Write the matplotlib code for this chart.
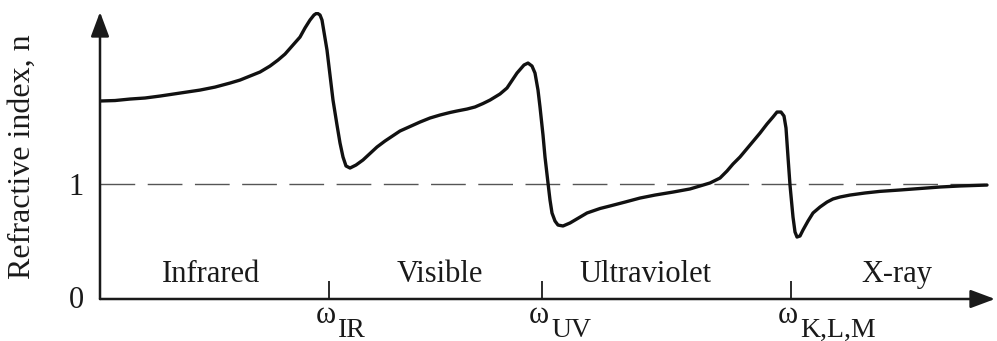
import matplotlib
matplotlib.use("Agg")
import matplotlib.pyplot as plt

plt.rcParams['font.family'] = ['Liberation Serif', 'DejaVu Serif']

# frequency (arbitrary units) and refractive index
freq = [0, .15, .30, .45, .60, .80, 1.00, 1.15, 1.30, 1.40, 1.50, 1.60, 1.70, 1.78,
        1.85, 1.93, 2.00, 2.05, 2.10, 2.14, 2.17, 2.20, 2.22,
        2.27, 2.33, 2.37, 2.40, 2.43, 2.46, 2.50, 2.56, 2.63, 2.77, 2.85, 3.00, 3.10,
        3.20, 3.30, 3.40, 3.50, 3.57, 3.67, 3.75, 3.83, 3.90, 4.00, 4.07, 4.12, 4.17,
        4.24, 4.28, 4.32, 4.35, 4.38, 4.40, 4.43, 4.45,
        4.48, 4.50, 4.52, 4.55, 4.58, 4.63, 4.70, 4.87, 5.00, 5.10, 5.25, 5.40, 5.55,
        5.73, 5.90, 6.00, 6.10, 6.20, 6.27, 6.33, 6.40, 6.50, 6.60, 6.67, 6.73, 6.77,
        6.81, 6.84, 6.86, 6.88, 6.90, 6.93, 6.95, 6.97,
        7.00, 7.03, 7.08, 7.13, 7.20, 7.27, 7.33, 7.40, 7.50, 7.65, 7.80, 8.00, 8.20,
        8.40, 8.60, 8.87]
n = [1.722, 1.726, 1.739, 1.748, 1.765, 1.791, 1.817, 1.843, 1.878, 1.904, 1.939,
     1.974, 2.026, 2.078, 2.130, 2.209, 2.278, 2.357, 2.426, 2.470, 2.487,
     2.470, 2.426, 2.165, 1.730, 1.513, 1.357, 1.235, 1.157, 1.139, 1.165, 1.209,
     1.322, 1.374, 1.461, 1.500, 1.539, 1.574, 1.600, 1.622, 1.635, 1.652, 1.670,
     1.700, 1.730, 1.783, 1.835, 1.900, 1.965, 2.035, 2.052, 2.026, 1.965,
     1.817, 1.670, 1.426, 1.235, 1.009, 0.861, 0.748, 0.678, 0.643, 0.635, 0.661,
     0.748, 0.787, 0.809, 0.843, 0.878, 0.904, 0.930, 0.957, 0.983, 1.009, 1.052,
     1.113, 1.174, 1.235, 1.339, 1.443, 1.522, 1.583, 1.626, 1.626, 1.591,
     1.487, 1.235, 0.991, 0.713, 0.583, 0.539, 0.548, 0.600, 0.678, 0.748, 0.800,
     0.843, 0.870, 0.887, 0.904, 0.922, 0.936, 0.948, 0.961, 0.974, 0.983, 0.991]

tick_pos = [2.29, 4.42, 6.91]
tick_sub = ['IR', 'UV', 'K,L,M']
regions = ['Infrared', 'Visible', 'Ultraviolet', 'X-ray']
region_pos = [1.11, 3.40, 5.45, 7.97]

fig = plt.figure(figsize=(9.97, 3.41), dpi=100)
ax = fig.add_axes([100/997, 42/341, 895/997, 287/341])
ax.set_xlim(0, 8.95)
ax.set_ylim(0, 2.496)
ax.axis('off')

ink = '#1a1a1a'

# dashed n = 1 line
ax.plot([0, 8.88], [1, 1], color='#555555', lw=1.0, dashes=(25, 9))

ax.plot(freq, n, color='#111111', lw=2.4, solid_joinstyle='round', solid_capstyle='round')

# axes with arrows
arrow = dict(arrowstyle='-|>,head_length=0.75,head_width=0.28', lw=1.8, color=ink,
             shrinkA=0, shrinkB=0, mutation_scale=20)
ax.annotate('', xy=(8.95, 0), xytext=(0, 0), arrowprops=arrow, annotation_clip=False)
ax.annotate('', xy=(0, 2.496), xytext=(0, 0), arrowprops=arrow, annotation_clip=False)

ax.vlines(tick_pos, 0, 0.157, color=ink, lw=1.3)

fs = 22
for t, s in zip(tick_pos, tick_sub):
    ax.text(t - 0.13, -0.209, 'ω', fontsize=fs, color=ink, ha='left', va='baseline')
    ax.text(t + 0.09, -0.330, s, fontsize=20, color=ink, ha='left', va='baseline')

for name, x in zip(regions, region_pos):
    ax.text(x, 0.148, name, fontsize=fs, color=ink, ha='center', va='baseline')

ax.text(-0.16, -0.078, '0', fontsize=fs, color=ink, ha='right', va='baseline')
ax.text(-0.16, 0.904, '1', fontsize=fs, color=ink, ha='right', va='baseline')

fig.text(22/997, 1 - 157/341, 'Refractive index, n', fontsize=23, color=ink,
         rotation=90, ha='center', va='center')

fig.savefig('out.png', dpi=100)
